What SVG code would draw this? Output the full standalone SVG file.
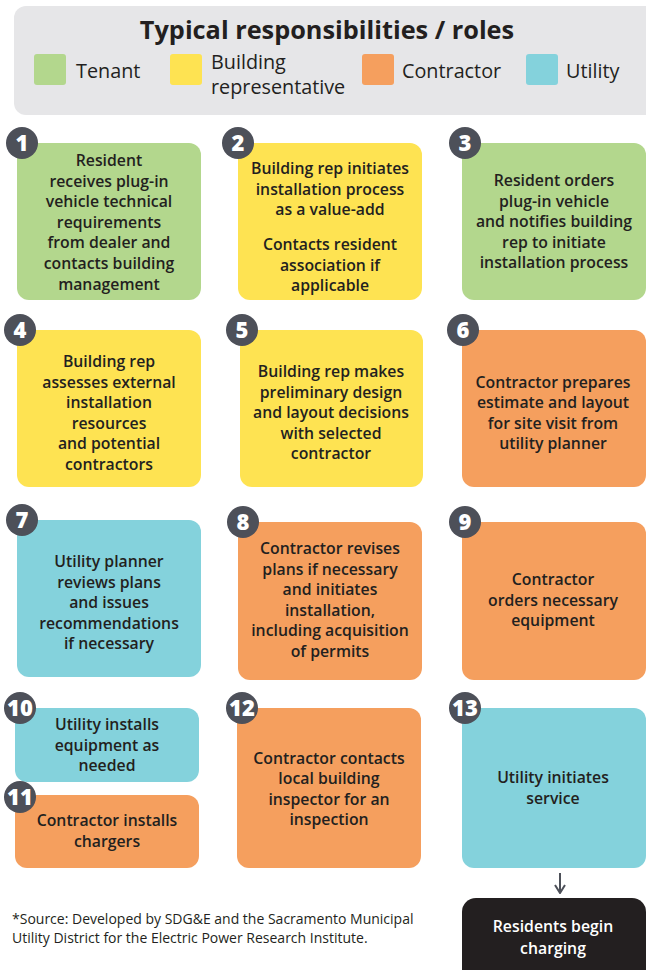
<svg xmlns="http://www.w3.org/2000/svg" width="646" height="970" viewBox="0 0 646 970">
<style>
.t{font-family:"Open Sans","Liberation Sans",sans-serif;font-weight:600;font-size:15.8px;fill:#231f20;text-anchor:middle}
.lg{font-family:"Open Sans","Liberation Sans",sans-serif;font-size:19.8px;fill:#231f20}
.bd{fill:#4d5059}
.bn{font-family:"Open Sans","Liberation Sans",sans-serif;font-weight:800;font-size:22px;fill:#fff;text-anchor:middle}
.g{fill:#b3d78d}.y{fill:#fee352}.o{fill:#f59f5e}.u{fill:#84d2dc}
.src{font-family:"Open Sans","Liberation Sans",sans-serif;font-size:14px;fill:#231f20}
</style>
<defs>
<marker id="ah" viewBox="0 0 10 12" refX="9" refY="6" markerWidth="10" markerHeight="12" markerUnits="userSpaceOnUse" orient="auto">
<path d="M1,1 L9,6 L1,11" fill="none" stroke="#4d5059" stroke-width="2"/>
</marker>
</defs>
<g id="header">
<rect x="14" y="6" width="645" height="109" rx="12" fill="#e6e6e8"/>
<text x="327" y="39" style="font-family:'Open Sans','Liberation Sans',sans-serif;font-weight:700;font-size:25.3px;fill:#231f20;text-anchor:middle">Typical responsibilities / roles</text>
<rect x="34" y="54" width="32" height="31" rx="3" class="g"/>
<text x="76" y="78" class="lg">Tenant</text>
<rect x="170" y="54" width="32" height="31" rx="3" class="y"/>
<text x="211" y="69" class="lg">Building</text>
<text x="211" y="94" class="lg">representative</text>
<rect x="362" y="54" width="32" height="31" rx="3" class="o"/>
<text x="402" y="78" class="lg">Contractor</text>
<rect x="526" y="54" width="32" height="31" rx="3" class="u"/>
<text x="566" y="78" class="lg">Utility</text>
</g>
<g id="n1">
<rect x="17" y="143" width="184" height="157" rx="12" class="g"/>
<text class="t"><tspan x="109" y="166">Resident</tspan><tspan x="109" y="187">receives plug-in</tspan><tspan x="109" y="207">vehicle technical</tspan><tspan x="109" y="228">requirements</tspan><tspan x="109" y="248">from dealer and</tspan><tspan x="109" y="269">contacts building</tspan><tspan x="109" y="290">management</tspan></text>
<circle cx="22" cy="143" r="16" class="bd"/><text x="22" y="150.5" class="bn">1</text>
</g>
<g id="n2">
<rect x="238" y="143" width="184" height="157" rx="12" class="y"/>
<text class="t"><tspan x="330" y="174">Building rep initiates</tspan><tspan x="330" y="195">installation process</tspan><tspan x="330" y="215">as a value-add</tspan><tspan x="330" y="250">Contacts resident</tspan><tspan x="330" y="271">association if</tspan><tspan x="330" y="291">applicable</tspan></text>
<circle cx="238" cy="143" r="16" class="bd"/><text x="238" y="150.5" class="bn">2</text>
</g>
<g id="n3">
<rect x="462" y="143" width="184" height="157" rx="12" class="g"/>
<text class="t"><tspan x="554" y="186">Resident orders</tspan><tspan x="554" y="207">plug-in vehicle</tspan><tspan x="554" y="227">and notifies building</tspan><tspan x="554" y="248">rep to initiate</tspan><tspan x="554" y="268">installation process</tspan></text>
<circle cx="465" cy="143" r="16" class="bd"/><text x="465" y="150.5" class="bn">3</text>
</g>
<g id="n4">
<rect x="17" y="330" width="184" height="157" rx="12" class="y"/>
<text class="t"><tspan x="109" y="367">Building rep</tspan><tspan x="109" y="388">assesses external</tspan><tspan x="109" y="408">installation</tspan><tspan x="109" y="429">resources</tspan><tspan x="109" y="449">and potential</tspan><tspan x="109" y="470">contractors</tspan></text>
<circle cx="20" cy="330" r="16" class="bd"/><text x="20" y="337.5" class="bn">4</text>
</g>
<g id="n5">
<rect x="240" y="330" width="183" height="157" rx="12" class="y"/>
<text class="t"><tspan x="331" y="377">Building rep makes</tspan><tspan x="331" y="398">preliminary design</tspan><tspan x="331" y="418">and layout decisions</tspan><tspan x="331" y="439">with selected</tspan><tspan x="331" y="459">contractor</tspan></text>
<circle cx="242" cy="330" r="16" class="bd"/><text x="242" y="337.5" class="bn">5</text>
</g>
<g id="n6">
<rect x="462" y="330" width="184" height="157" rx="12" class="o"/>
<text class="t"><tspan x="553" y="388">Contractor prepares</tspan><tspan x="553" y="408">estimate and layout</tspan><tspan x="553" y="429">for site visit from</tspan><tspan x="553" y="449">utility planner</tspan></text>
<circle cx="463" cy="330" r="16" class="bd"/><text x="463" y="337.5" class="bn">6</text>
</g>
<g id="n7">
<rect x="17" y="520" width="184" height="157" rx="12" class="u"/>
<text class="t"><tspan x="109" y="567">Utility planner</tspan><tspan x="109" y="588">reviews plans</tspan><tspan x="109" y="608">and issues</tspan><tspan x="109" y="629">recommendations</tspan><tspan x="109" y="649">if necessary</tspan></text>
<circle cx="22" cy="520" r="16" class="bd"/><text x="22" y="527.5" class="bn">7</text>
</g>
<g id="n8">
<rect x="238" y="522" width="184" height="158" rx="12" class="o"/>
<text class="t"><tspan x="330" y="554">Contractor revises</tspan><tspan x="330" y="575">plans if necessary</tspan><tspan x="330" y="595">and initiates</tspan><tspan x="330" y="616">installation,</tspan><tspan x="330" y="636">including acquisition</tspan><tspan x="330" y="657">of permits</tspan></text>
<circle cx="243" cy="522" r="16" class="bd"/><text x="243" y="529.5" class="bn">8</text>
</g>
<g id="n9">
<rect x="462" y="522" width="184" height="158" rx="12" class="o"/>
<text class="t"><tspan x="553" y="585">Contractor</tspan><tspan x="553" y="606">orders necessary</tspan><tspan x="553" y="626">equipment</tspan></text>
<circle cx="465" cy="522" r="16" class="bd"/><text x="465" y="529.5" class="bn">9</text>
</g>
<g id="n10">
<rect x="15" y="708" width="184" height="74" rx="12" class="u"/>
<text class="t"><tspan x="107" y="730">Utility installs</tspan><tspan x="107" y="751">equipment as</tspan><tspan x="107" y="771">needed</tspan></text>
<circle cx="20" cy="708" r="16" class="bd"/><text x="20" y="715.5" class="bn">10</text>
</g>
<g id="n11">
<rect x="15" y="795" width="184" height="73" rx="12" class="o"/>
<text class="t"><tspan x="107" y="826">Contractor installs</tspan><tspan x="107" y="847">chargers</tspan></text>
<circle cx="20" cy="797" r="16" class="bd"/><text x="20" y="804.5" class="bn">11</text>
</g>
<g id="n12">
<rect x="237" y="708" width="184" height="160" rx="12" class="o"/>
<text class="t"><tspan x="329" y="764">Contractor contacts</tspan><tspan x="329" y="784">local building</tspan><tspan x="329" y="805">inspector for an</tspan><tspan x="329" y="825">inspection</tspan></text>
<circle cx="242" cy="708" r="16" class="bd"/><text x="242" y="715.5" class="bn">12</text>
</g>
<g id="n13">
<rect x="462" y="708" width="184" height="160" rx="12" class="u"/>
<text class="t"><tspan x="553" y="783">Utility initiates</tspan><tspan x="553" y="804">service</tspan></text>
<circle cx="465" cy="708" r="16" class="bd"/><text x="465" y="715.5" class="bn">13</text>
</g>
<g id="connectors">
<line x1="560" y1="873" x2="560" y2="893" stroke="#4d5059" stroke-width="2" marker-end="url(#ah)"/>
</g>
<g id="n14">
<rect x="462" y="898" width="184" height="85" rx="14" fill="#231f20"/>
<text class="t" style="fill:#fff"><tspan x="553" y="932">Residents begin</tspan><tspan x="553" y="954">charging</tspan></text>
</g>
<g id="source">
<text class="src"><tspan x="12" y="924">*Source: Developed by SDG&amp;E and the Sacramento Municipal</tspan><tspan x="12" y="943">Utility District for the Electric Power Research Institute.</tspan></text>
</g>
</svg>
